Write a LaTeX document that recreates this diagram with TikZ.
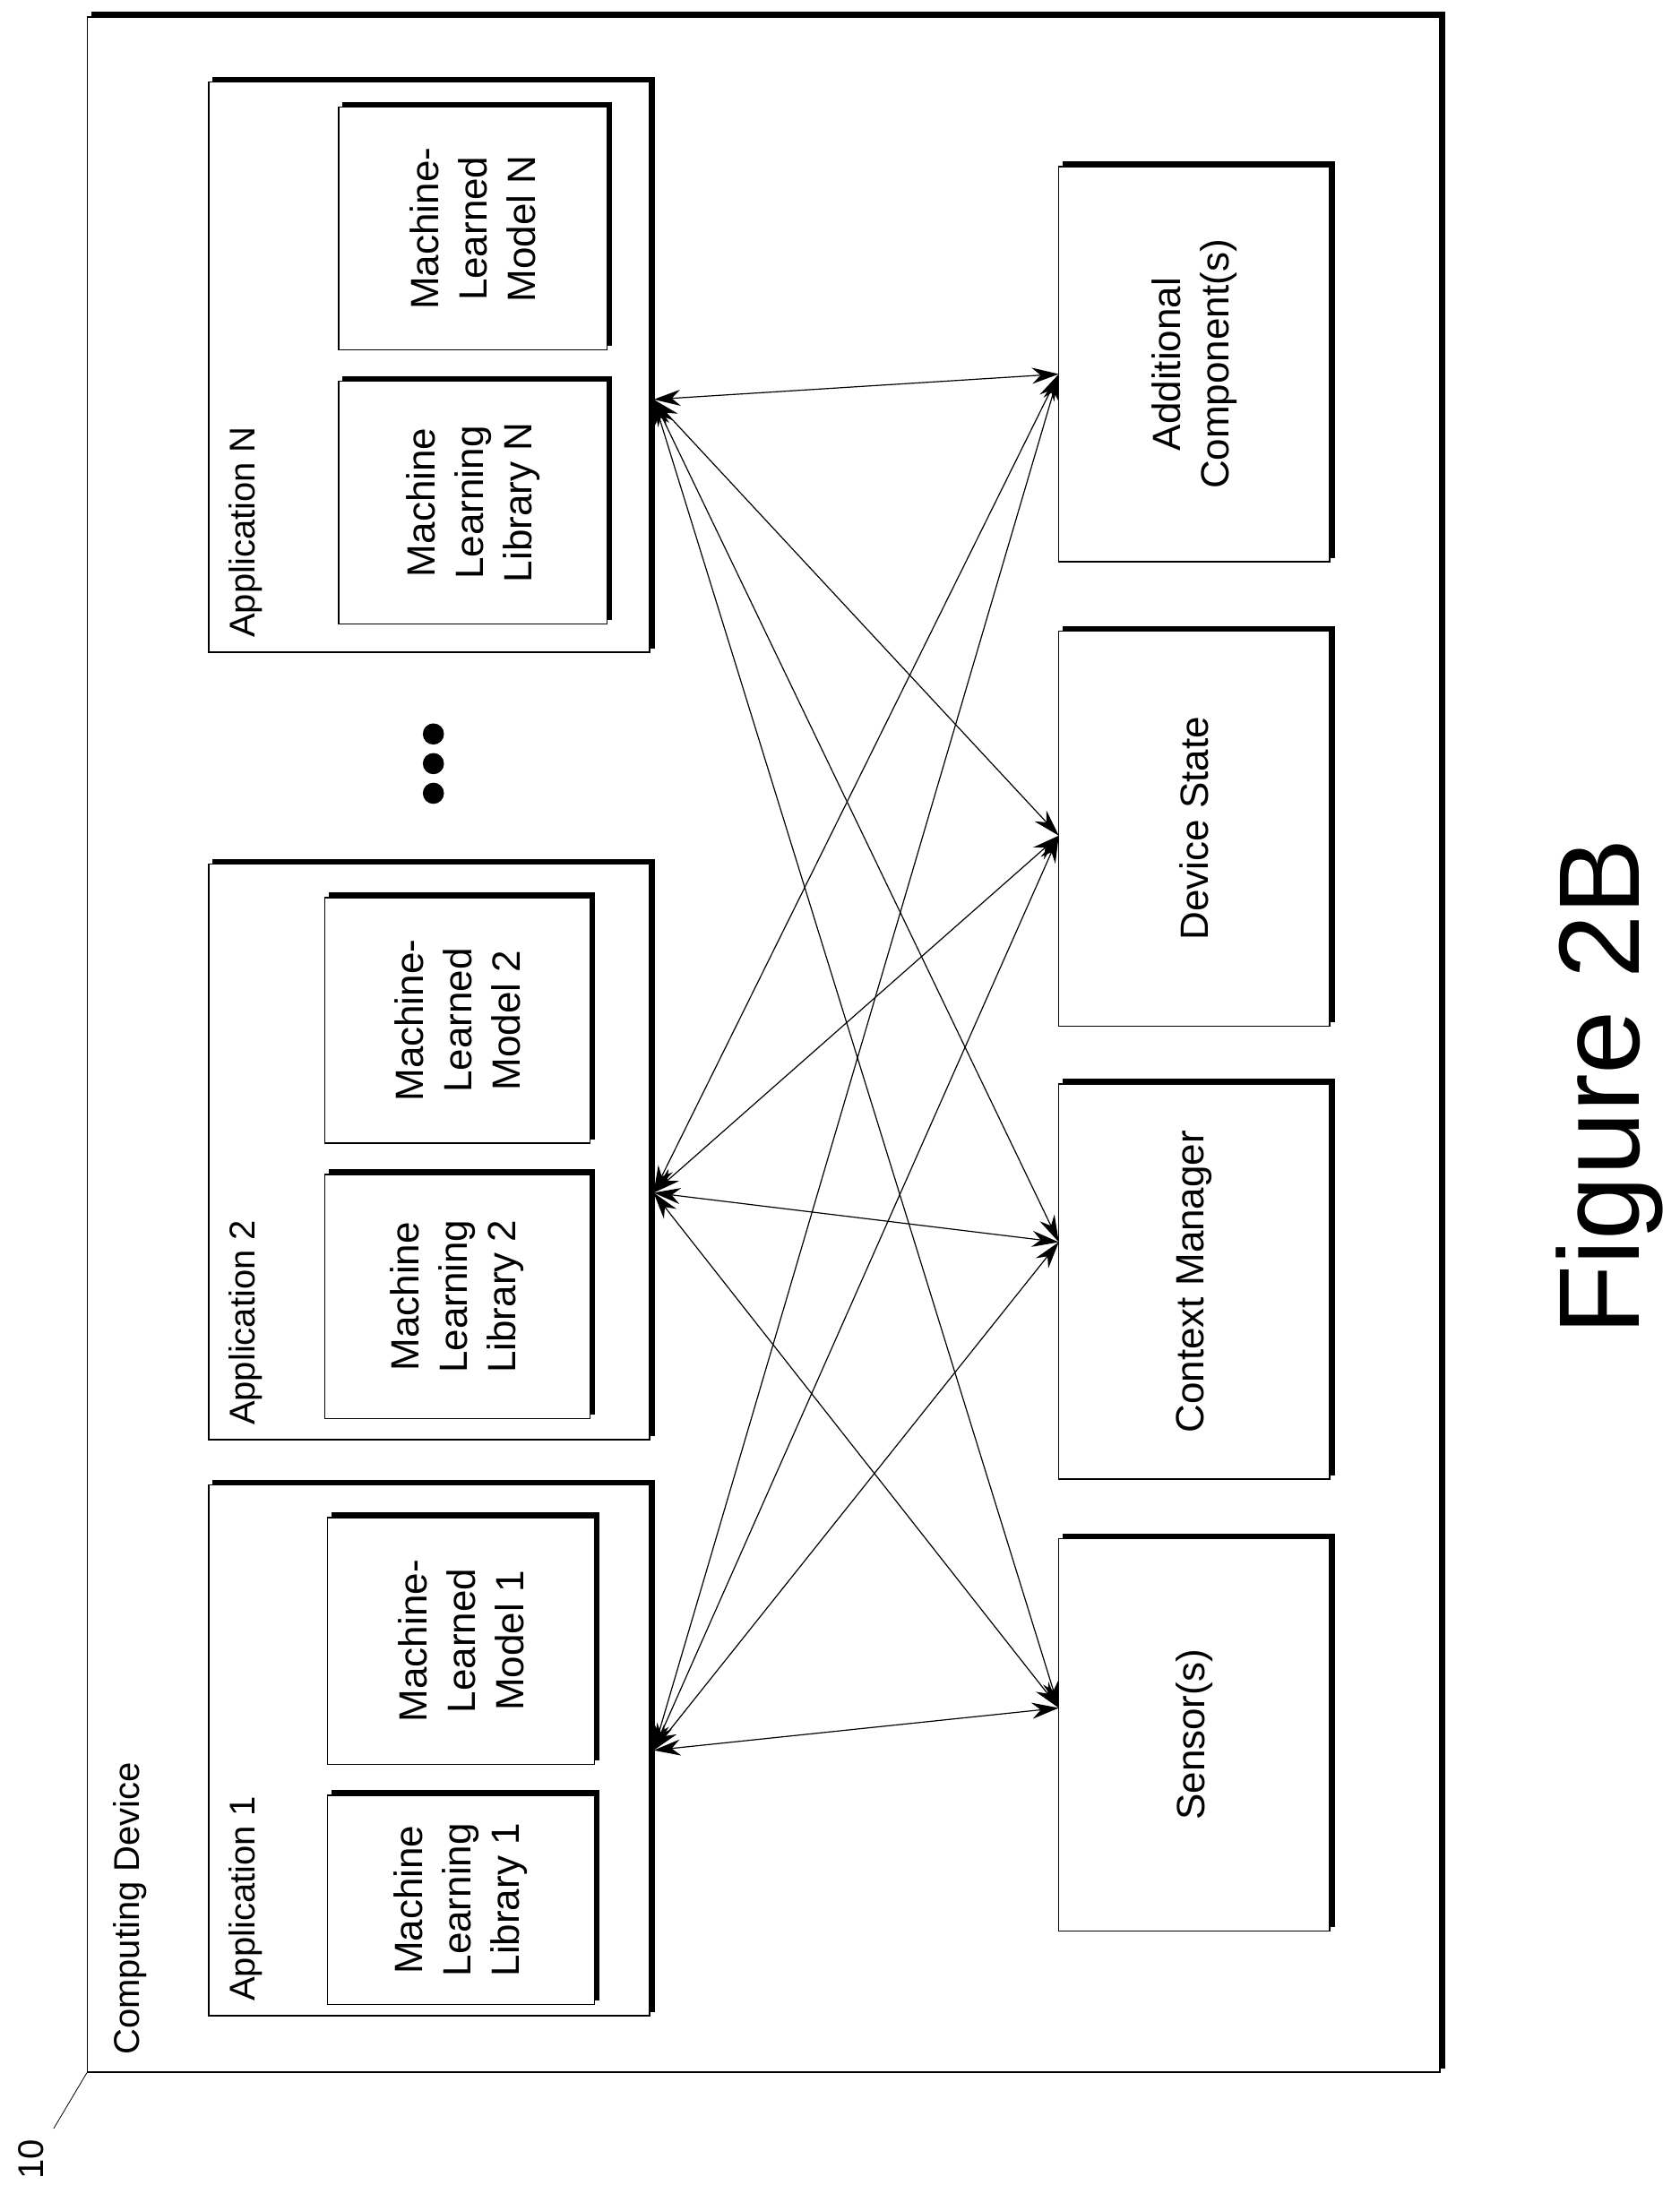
\documentclass[tikz,border=0pt]{standalone}
\usepackage{fontspec}
\setmainfont{Liberation Sans}
\usetikzlibrary{fit,shadows,arrows.meta}
\begin{document}
\begin{tikzpicture}[x=1.5756pt,y=-1.5756pt,
  box/.style={draw=black,fill=white,line width=1.5pt,inner sep=0pt,
    copy shadow={shadow xshift=5pt,shadow yshift=5pt,fill=black,draw=black}},
  lbl/.style={rotate=90,font=\fontsize{44}{54}\selectfont,align=center},
  tl/.style={rotate=90,font=\fontsize{40}{46}\selectfont,anchor=north west},
  conn/.style={<->,>={Stealth[length=30pt,width=18pt]},line width=1.2pt}]
\useasboundingbox (0,0) rectangle (1190,1566.4);
\node[box,fit={(62,12)(1020,1468)}] (cd) {};
\node[tl] at (78,1458) {Computing Device};
\node[rotate=90,font=\fontsize{40}{46}\selectfont] (ten) at (22,1530) {10};
\coordinate (tenl) at (38,1508);
\draw[line width=0.8pt] (tenl) -- (cd.south west);
% applications
\node[box,fit={(148,1052)(460,1428)}] (a1) {};
\node[tl] at (160,1420) {Application 1};
\node[box,fit={(232,1272)(421,1420)}] (l1) {};
\node[lbl] at (l1) {Machine\\Learning\\Library 1};
\node[box,fit={(232,1075)(421,1250)}] (m1) {};
\node[lbl] at (m1) {Machine-\\Learned\\Model 1};
\node[box,fit={(148,612)(460,1020)}] (a2) {};
\node[tl] at (160,1012) {Application 2};
\node[box,fit={(230,832)(418,1005)}] (l2) {};
\node[lbl] at (l2) {Machine\\Learning\\Library 2};
\node[box,fit={(230,636)(418,810)}] (m2) {};
\node[lbl] at (m2) {Machine-\\Learned\\Model 2};
\node[box,fit={(148,58)(460,462)}] (an) {};
\node[tl] at (160,454) {Application N};
\node[box,fit={(240,270)(430,442)}] (ln) {};
\node[lbl] at (ln) {Machine\\Learning\\Library N};
\node[box,fit={(240,76)(430,248)}] (mn) {};
\node[lbl] at (mn) {Machine-\\Learned\\Model N};
\foreach \yy/\nm in {520/d1,541/d2,562/d3}{\fill (307,\yy) circle (7.5) coordinate (\nm);}
% components
\node[box,fit={(750,118)(942,398)}] (ac) {};
\node[lbl] at (ac) {Additional\\Component(s)};
\node[box,fit={(750,447)(942,727)}] (ds) {};
\node[lbl] at (ds) {Device State};
\node[box,fit={(750,768)(942,1048)}] (cm) {};
\node[lbl] at (cm) {Context Manager};
\node[box,fit={(750,1090)(942,1368)}] (se) {};
\node[lbl] at (se) {Sensor(s)};
\node[rotate=90,font=\fontsize{128}{140}\selectfont] (fig) at (1140,770) {Figure 2B};
% connection points
\coordinate (p1) at (463,1240);
\coordinate (p2) at (463,845);
\coordinate (pn) at (463,283);
\coordinate (qa) at (750,265);
\coordinate (qd) at (750,592);
\coordinate (qc) at (750,880);
\coordinate (qs) at (750,1210);
\foreach \p in {p1,p2,pn}{\foreach \q in {qa,qd,qc,qs}{\draw[conn] (\p) -- (\q);}}
\end{tikzpicture}
\end{document}
